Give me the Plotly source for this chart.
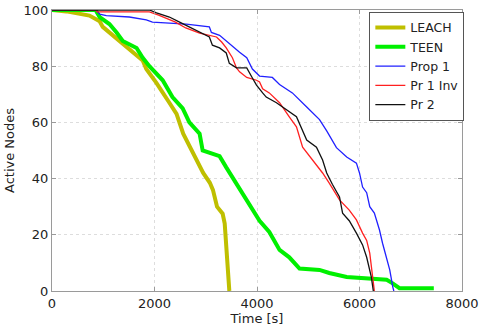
import plotly.graph_objects as go

# ---- data ----
leach_t = [0, 280, 730, 930, 990, 1120, 1380, 1770, 1840, 2040, 2290, 2430, 2560, 2700, 2830, 2950, 3080, 3140, 3220, 3330, 3370, 3400, 3430, 3460]
leach_n = [100, 99.5, 98, 96, 94, 92, 88, 82, 79, 74, 67, 63, 56, 51, 46.5, 42, 38.5, 36, 30, 27.5, 24, 16, 6, 0]

teen_t = [0, 850, 930, 1120, 1260, 1380, 1650, 1770, 1900, 2160, 2350, 2550, 2680, 2880, 2940, 3130, 3270, 3400, 3520, 3660, 3850, 4050, 4240, 4440, 4630, 4830, 5220, 5410, 5750, 6000, 6530, 6640, 6780, 7450]
teen_n = [100, 100, 97.5, 95, 92, 89, 86.5, 83, 80, 75, 69, 65, 60, 56, 50, 49, 48, 44, 40.5, 36, 31, 25, 21, 14.6, 12, 8, 7.5, 6.4, 5, 4.6, 4, 2.8, 1, 1]

prop1_t = [0, 860, 930, 1060, 1510, 1840, 1960, 2490, 2620, 3070, 3110, 3270, 3460, 3660, 3800, 3910, 4050, 4300, 4440, 4690, 4970, 5220, 5360, 5550, 5750, 5940, 6000, 6060, 6140, 6200, 6290, 6390, 6450, 6530, 6590, 6650, 6670]
prop1_n = [100, 100, 98.5, 98, 97.5, 96.5, 95.7, 95, 95, 94, 92, 91, 88, 85, 83, 79, 76.5, 76, 73.5, 70.5, 65.5, 61, 57, 51, 47.7, 45.5, 42, 37, 35, 30, 27.7, 21.7, 17, 12, 7.5, 1.4, 0]

pr1inv_t = [0, 860, 880, 1900, 2080, 2410, 2610, 2880, 3210, 3310, 3400, 3520, 3600, 3660, 3800, 3990, 4050, 4110, 4240, 4440, 4630, 4770, 4890, 5080, 5280, 5410, 5610, 5800, 5940, 6060, 6140, 6200, 6250, 6290]
pr1inv_n = [100, 100, 99.3, 99.3, 98.2, 95.7, 93.6, 91.8, 90.4, 88.6, 86.5, 83, 79.4, 78, 76, 75, 74.4, 72, 70.5, 67, 62, 58.4, 51.2, 46.6, 42, 38.4, 32.4, 28.8, 25.3, 20.6, 18, 13.5, 6.4, 0]

pr2_t = [0, 1900, 2040, 2290, 2490, 2680, 2880, 3070, 3130, 3270, 3400, 3460, 3600, 3800, 3910, 3990, 4110, 4180, 4380, 4580, 4770, 4970, 5160, 5280, 5360, 5470, 5610, 5670, 5800, 5940, 6060, 6140, 6230, 6270]
pr2_n = [100, 100, 99, 97.5, 95.7, 94, 92, 90.4, 87.5, 86.5, 84.7, 81, 79.4, 79.4, 75.8, 73.3, 70.5, 69, 67, 64.4, 62, 53.7, 51.2, 46.6, 42, 38, 33.5, 27.7, 25, 20.6, 16.4, 12, 5, 0]

x_ticks = [0, 2000, 4000, 6000, 8000]
y_ticks = [0, 20, 40, 60, 80, 100]

FONT = "DejaVu Sans"
TXT = "#222222"

fig = go.Figure()
series = [
    ("LEACH", leach_t, leach_n, "#bfbf00", 4),
    ("TEEN", teen_t, teen_n, "#00f000", 4),
    ("Prop 1", prop1_t, prop1_n, "#2020ff", 1.3),
    ("Pr 1 Inv", pr1inv_t, pr1inv_n, "#ff2020", 1.3),
    ("Pr 2", pr2_t, pr2_n, "#111111", 1.3),
]
for name, t, n, c, w in series:
    fig.add_trace(go.Scatter(x=t, y=n, mode="lines", name=name,
                             line=dict(color=c, width=w)))

axis_common = dict(
    showline=True, linecolor="#9a9a9a", linewidth=1, mirror="ticks",
    ticks="inside", ticklen=4, tickcolor="#9a9a9a",
    showgrid=True, gridcolor="#dddddd", griddash="dot", gridwidth=1,
    zeroline=False, automargin=False,
    tickfont=dict(family=FONT, size=13, color=TXT),
)

fig.update_layout(
    width=484, height=326,
    margin=dict(l=52, r=22, t=10, b=35),
    paper_bgcolor="white", plot_bgcolor="white",
    font=dict(family=FONT, size=13, color=TXT),
    showlegend=True,
    legend=dict(x=0.774, y=0.993, xanchor="left", yanchor="top",
                bgcolor="white", bordercolor="#555555", borderwidth=1,
                font=dict(family=FONT, size=12.5, color=TXT),
                tracegroupgap=0, itemwidth=30),
    xaxis=dict(range=[0, 8000], tickvals=x_ticks,
               title=dict(text="Time [s]", standoff=0, font=dict(family=FONT, size=13, color=TXT)),
               **axis_common),
    yaxis=dict(range=[0, 100], tickvals=y_ticks,
               title=dict(text="Active Nodes", standoff=6, font=dict(family=FONT, size=13, color=TXT)),
               **axis_common),
)

fig.write_html("out.html")
